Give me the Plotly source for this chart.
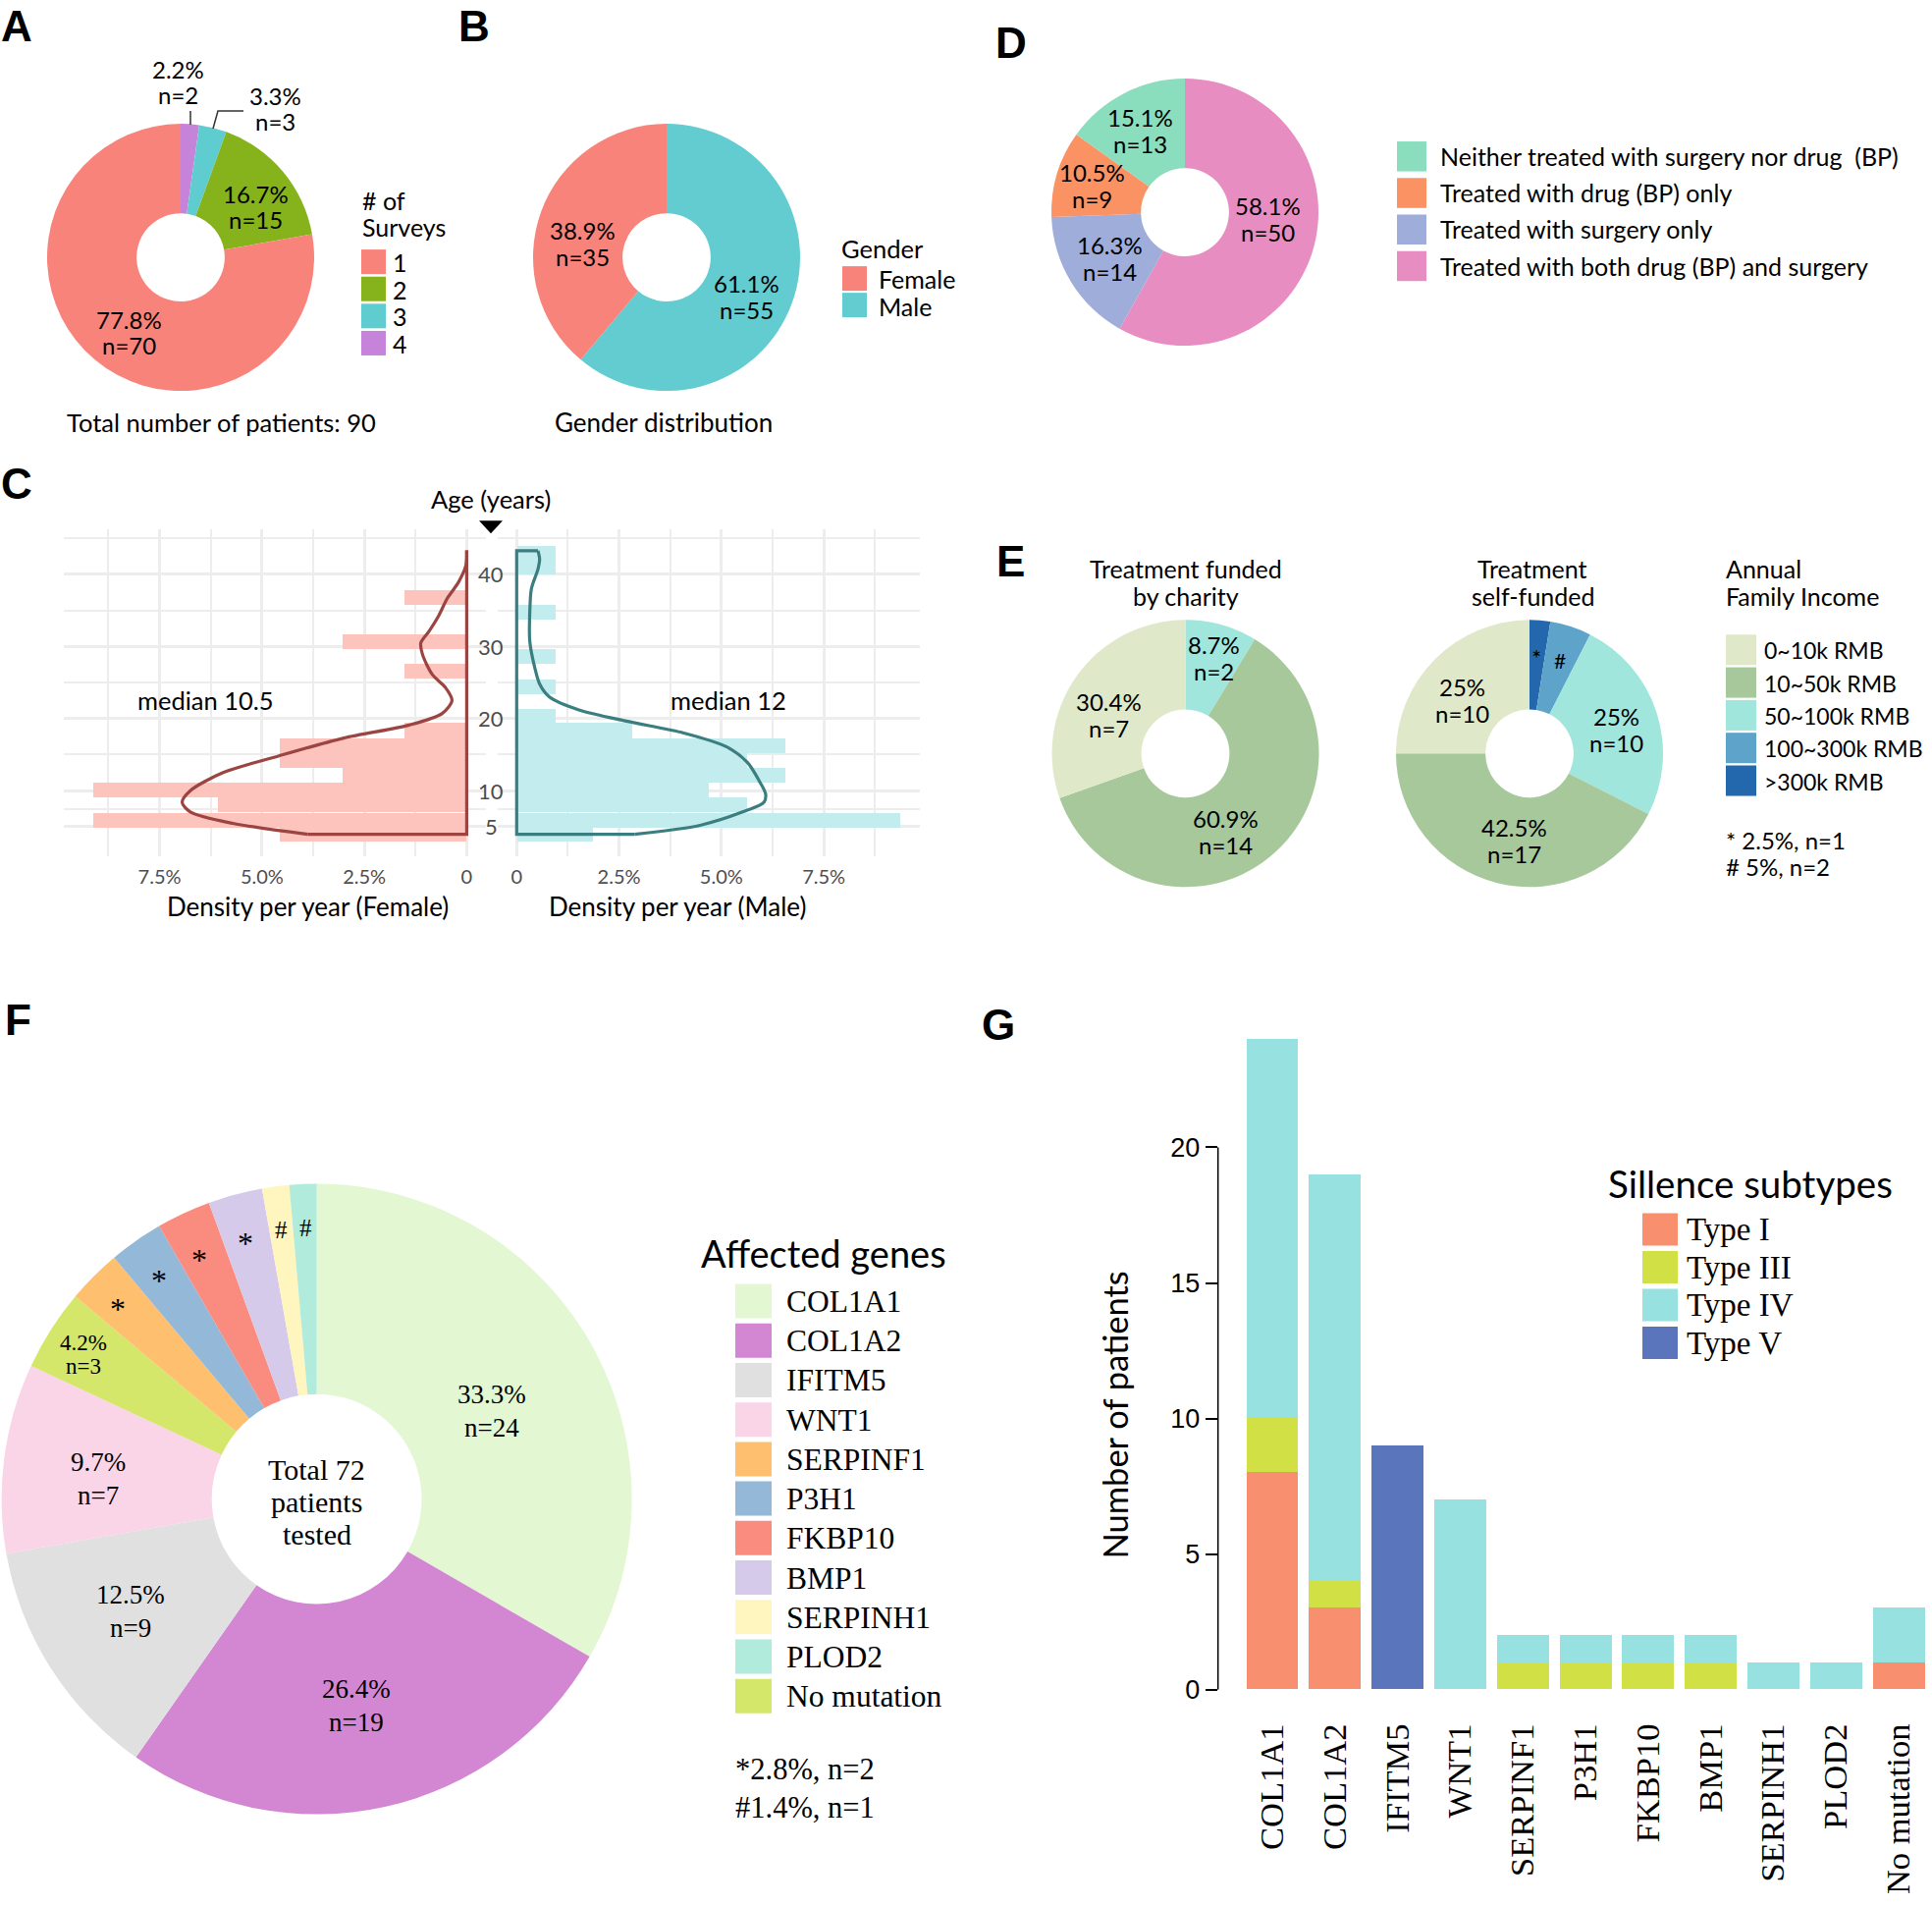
import plotly.graph_objects as go

W, H = 1968, 1940
YK = 1.0082  # compensates the slight vertical squeeze observed in the photographed page
def px(x): return x / W
def py(y): return 1 - (y * YK) / H

SANS = "Lato"
SERIF = "Liberation Serif"
ARIAL = "Liberation Sans"

# ---------------- DATA ----------------
# A: number of surveys
survey_labels = ["1", "2", "3", "4"]
survey_n = [70, 15, 3, 2]
survey_colors = ["#F8837B", "#86B31B", "#5FCCD0", "#C683DA"]

# B: gender
gender_labels = ["Female", "Male"]
gender_n = [35, 55]
gender_colors = ["#F8837B", "#62CCD0"]

# D: treatment
treat_labels = ["Neither treated with surgery nor drug&nbsp;&nbsp;(BP)", "Treated with drug (BP) only",
                "Treated with surgery only", "Treated with both drug (BP) and surgery"]
treat_n = [13, 9, 14, 50]
treat_colors = ["#8ADEBE", "#FA9263", "#9EADD9", "#E78DC2"]

# E: income
income_labels = ["0~10k RMB", "10~50k RMB", "50~100k RMB", "100~300k RMB", ">300k RMB"]
charity_n = [7, 14, 2, 0, 0]
self_n = [10, 17, 10, 2, 1]
income_colors = ["#DFE9C9", "#A6C89B", "#A0E6DC", "#5DA3CA", "#2367AC"]

# C: age histograms (density per year, %)
age_bin_centers = [4.0, 6.0, 8.1, 10.2, 12.2, 14.3, 16.3, 18.4, 20.4, 22.5,
                   24.5, 26.6, 28.7, 30.7, 32.8, 34.8, 36.9, 38.9, 41.0, 43.0]
female_density = [4.56, 9.13, 6.07, 9.13, 3.02, 4.56, 4.56, 1.52, 0, 0,
                  0, 1.52, 0, 3.02, 0, 0, 1.52, 0, 0, 0]
male_density = [1.86, 9.37, 5.62, 4.69, 6.56, 5.62, 6.56, 2.81, 0.94, 0,
                0.94, 0, 0.94, 0, 0, 0.94, 0, 0, 0.94, 0.94]
female_curve_age = [3.96, 5.46, 7.05, 8.4, 10.0, 12.5, 14.8, 17.3, 19.1, 20.7, 22.5,
                    24.3, 26.1, 28.9, 30.5, 32.1, 34.3, 36.6, 38.9, 41.2, 43.3]
female_curve_density = [3.88, 5.71, 6.75, 6.95, 6.75, 5.95, 4.6, 3.0, 1.4, 0.6, 0.36,
                        0.52, 0.84, 1.08, 1.12, 0.92, 0.68, 0.48, 0.2, 0.02, 0.0]
male_curve_age = [3.96, 5.2, 7.05, 8.4, 9.55, 11.4, 13.9, 16.1, 18.0, 19.6, 21.2,
                  23.0, 24.8, 27.1, 30.7, 34.8, 38.0, 40.7, 42.1, 43.25]
male_curve_density = [2.88, 4.48, 5.52, 6.04, 6.08, 5.92, 5.64, 5.12, 4.08, 2.72, 1.52,
                      0.8, 0.56, 0.44, 0.32, 0.32, 0.36, 0.52, 0.56, 0.52]
age_ticks = [5, 10, 20, 30, 40]
density_ticks = [0, 2.5, 5.0, 7.5]
density_ticktext = ["0", "2.5%", "5.0%", "7.5%"]

# F: affected genes
genes = ["COL1A1", "COL1A2", "IFITM5", "WNT1", "SERPINF1", "P3H1", "FKBP10",
         "BMP1", "SERPINH1", "PLOD2", "No mutation"]
gene_n = [24, 19, 9, 7, 2, 2, 2, 2, 1, 1, 3]
gene_colors = ["#E2F7D2", "#D386D2", "#E0E0E0", "#FAD4E7", "#FEBF6F", "#93B8D8",
               "#FA8B7F", "#D5CAEA", "#FFF5BE", "#B1EBDB", "#D5E76B"]
gene_pie_order = ["COL1A1", "COL1A2", "IFITM5", "WNT1", "No mutation", "SERPINF1",
                  "P3H1", "FKBP10", "BMP1", "SERPINH1", "PLOD2"]

# G: Sillence subtypes per gene
subtypes = ["Type I", "Type III", "Type IV", "Type V"]
subtype_colors = ["#F88F6F", "#D1E044", "#98E1E1", "#5B75BD"]
type_I = [8, 3, 0, 0, 0, 0, 0, 0, 0, 0, 1]
type_III = [2, 1, 0, 0, 1, 1, 1, 1, 0, 0, 0]
type_IV = [14, 15, 0, 7, 1, 1, 1, 1, 1, 1, 2]
type_V = [0, 0, 9, 0, 0, 0, 0, 0, 0, 0, 0]
g_yticks = [0, 5, 10, 15, 20]

# ---------------- helpers ----------------
def pct(n, total):
    v = round(100.0 * n / total, 1)
    s = f"{v:.1f}"
    if s.endswith(".0"):
        s = s[:-2]
    return s + "%"

fig = go.Figure()
annotations = []
shapes = []

def text(x, y, s, size, font=SANS, color="black", xanchor="center", yanchor="middle", **kw):
    annotations.append(dict(x=px(x), y=py(y), xref="paper", yref="paper", text=s,
                            showarrow=False, font=dict(family=font, size=size, color=color),
                            xanchor=xanchor, yanchor=yanchor, **kw))

def lines(x, y, parts, size, spacing, **kw):
    n = len(parts)
    for i, p in enumerate(parts):
        text(x, y + (i - (n - 1) / 2) * spacing, p, size, **kw)

def rect(x0, y0, x1, y1, color):
    shapes.append(dict(type="rect", xref="paper", yref="paper", x0=px(x0), x1=px(x1),
                       y0=py(y1), y1=py(y0), fillcolor=color, line=dict(width=0)))

def seg(pts, color="#333333", width=1.5):
    path = "M " + " L ".join(f"{px(a):.5f},{py(b):.5f}" for a, b in pts)
    shapes.append(dict(type="path", xref="paper", yref="paper", path=path,
                       line=dict(color=color, width=width)))

def pie(labels, values, colors, cx, cy, r, hole=0.33):
    # slices listed in legend order; drawn clockwise from 12 o'clock in reverse order
    fig.add_trace(go.Pie(labels=labels[::-1], values=values[::-1], sort=False, direction="clockwise",
                         rotation=0, hole=hole, textinfo="none", showlegend=False,
                         marker=dict(colors=colors[::-1], line=dict(width=0)),
                         domain=dict(x=[px(cx - r), px(cx + r)], y=[py(cy + r), py(cy - r)])))

# panel letters
for L, x, y in [("C", 17, 492), ("D", 1030, 43), ("E", 1029, 571), ("F", 18, 1038), ("G", 1017, 1043)]:
    text(x, y, f"<b>{L}</b>", 44, font=ARIAL)
for L, x in [("A", 17), ("B", 483)]:
    text(x, 0, f"<b>{L}</b>", 44, font=ARIAL, yanchor="top")

LS = 24  # pie label font size

# ---------------- A ----------------
pie(survey_labels, survey_n, survey_colors, 184, 262, 136)
tot = sum(survey_n)
a_pos = [(131, 338), (260, 210), (280, 110), (181, 83)]
for n, (x, y) in zip(survey_n, a_pos):
    lines(x, y, [pct(n, tot), f"n={n}"], LS, 26)
seg([(194, 127), (194, 113)])
seg([(217, 131), (222, 113), (248, 113)])
lines(367, 217.5, ["# of", "Surveys"], 25, 27, xanchor="left")
for i, (lab, c) in enumerate(zip(survey_labels, survey_colors)):
    rect(368, 254 + 27.6 * i, 393, 279 + 27.6 * i, c)
    text(398, 267 + 27.6 * i, lab, 25, xanchor="left")
text(225, 430, f"Total number of patients: {tot}", 25.5)

# ---------------- B ----------------
pie(gender_labels, gender_n, gender_colors, 679, 262, 136)
gt = sum(gender_n)
for n, (x, y) in zip(gender_n, [(593, 248), (760, 302)]):
    lines(x, y, [pct(n, gt), f"n={n}"], LS, 27)
text(855, 253, "Gender", 25.5, xanchor="left")
for i, (lab, c) in enumerate(zip(gender_labels, gender_colors)):
    rect(858, 271 + 27 * i, 883, 296 + 27 * i, c)
    text(893, 284 + 27.5 * i, lab, 25, xanchor="left")
text(676, 430, "Gender distribution", 26)

# ---------------- D ----------------
pie(treat_labels, treat_n, treat_colors, 1207, 216, 136)
dt = sum(treat_n)
for n, (x, y) in zip(treat_n, [(1161, 133), (1112, 189), (1130, 263), (1291, 223)]):
    lines(x, y, [pct(n, dt), f"n={n}"], LS, 27)
for i, (lab, c) in enumerate(zip(treat_labels, treat_colors)):
    rect(1423, 144 + 37.2 * i, 1453, 174.5 + 37.2 * i, c)
    text(1465, 159 + 37.2 * i, lab, 25, xanchor="left")

# ---------------- E ----------------
pie(income_labels, charity_n, income_colors, 1207.5, 767, 136)
pie(income_labels, self_n, income_colors, 1558, 767, 136)
ct = sum(charity_n)
st = sum(self_n)
for n, (x, y) in zip(charity_n[:3], [(1129, 728), (1248, 847), (1236, 670)]):
    lines(x, y, [pct(n, ct), f"n={n}"], LS, 27)
for n, (x, y) in zip(self_n[:3], [(1489, 713), (1542, 856), (1646, 743)]):
    lines(x, y, [pct(n, st), f"n={n}"], LS, 27)
text(1565, 669, "*", 24)
text(1589, 672, "#", 21)
lines(1208, 593, ["Treatment funded", "by charity"], 25, 28)
lines(1561, 593, ["Treatment", "self-funded"], 25, 28)
lines(1756, 593, ["Annual", "Family Income"], 25, 28, xanchor="left")
for i, (lab, c) in enumerate(zip(income_labels, income_colors)):
    rect(1758, 646 + 33.3 * i, 1789, 677 + 33.3 * i, c)
    text(1795, 662 + 33.3 * i, lab, 23, xanchor="left")
text(1756, 855, f"* {pct(self_n[4], st)}, n={self_n[4]}", 24, xanchor="left")
text(1756, 882, f"# {pct(self_n[3], st)}, n={self_n[3]}", 24, xanchor="left")

# ---------------- C ----------------
grid = "#EDEDED"
fem_bar, fem_line = "#FCC4BC", "#9B4441"
mal_bar, mal_line = "#C2ECEE", "#3B7E80"
fig.add_trace(go.Bar(y=age_bin_centers, x=female_density, orientation="h", width=2.055,
                     marker=dict(color=fem_bar, line=dict(width=0)), xaxis="x", yaxis="y",
                     showlegend=False))
fig.add_trace(go.Scatter(x=female_curve_density, y=female_curve_age, mode="lines",
                         line=dict(color=fem_line, width=3.2, shape="spline", smoothing=0.8),
                         xaxis="x", yaxis="y", showlegend=False))
fig.add_trace(go.Scatter(x=[female_curve_density[0], 0, 0],
                         y=[female_curve_age[0], female_curve_age[0], female_curve_age[-1]],
                         mode="lines", line=dict(color=fem_line, width=3.2),
                         xaxis="x", yaxis="y", showlegend=False))
fig.add_trace(go.Bar(y=age_bin_centers, x=male_density, orientation="h", width=2.055,
                     marker=dict(color=mal_bar, line=dict(width=0)), xaxis="x2", yaxis="y2",
                     showlegend=False))
fig.add_trace(go.Scatter(x=male_curve_density, y=male_curve_age, mode="lines",
                         line=dict(color=mal_line, width=3.2, shape="spline", smoothing=0.8),
                         xaxis="x2", yaxis="y2", showlegend=False))
fig.add_trace(go.Scatter(x=[male_curve_density[0], 0, 0, male_curve_density[-1]],
                         y=[male_curve_age[0], male_curve_age[0], male_curve_age[-1], male_curve_age[-1]],
                         mode="lines", line=dict(color=mal_line, width=3.2),
                         xaxis="x2", yaxis="y2", showlegend=False))

def c_xaxis(dom, rng, anchor):
    return dict(domain=[px(dom[0]), px(dom[1])], range=rng, anchor=anchor,
                tickmode="array", tickvals=density_ticks, ticktext=density_ticktext,
                showgrid=True, gridcolor=grid, gridwidth=2.5, zeroline=False, showline=False,
                ticks="", tickfont=dict(family=SANS, size=20, color="#4D4D4D"),
                ticklabelstandoff=7,
                minor=dict(tickmode="array", tickvals=[1.25, 3.75, 6.25, 8.75], showgrid=True,
                           gridcolor=grid, gridwidth=1.5))

def c_yaxis(anchor):
    return dict(domain=[py(871.7), py(538.3)], range=[0.9, 46.3], anchor=anchor,
                tickmode="array", tickvals=age_ticks, showticklabels=False,
                showgrid=True, gridcolor=grid, gridwidth=2.5, zeroline=False, showline=False,
                ticks="",
                minor=dict(tickmode="array", tickvals=[7.5, 15, 25, 35, 45], showgrid=True,
                           gridcolor=grid, gridwidth=1.5))

for a in age_ticks:
    annotations.append(dict(x=px(500), y=a, xref="paper", yref="y", text=str(a),
                            showarrow=False, font=dict(family=SANS, size=22, color="#4D4D4D"),
                            xanchor="center", yanchor="middle"))
text(500, 508, "Age (years)", 25.5)
shapes.append(dict(type="path", xref="paper", yref="paper",
                   path=f"M {px(488)},{py(530)} L {px(512)},{py(530)} L {px(500)},{py(543)} Z",
                   fillcolor="black", line=dict(width=0)))
text(209, 713, "median 10.5", 25.5)
text(742, 713, "median 12", 25.5)
text(313, 923, "Density per year (Female)", 26)
text(690, 923, "Density per year (Male)", 26)

# ---------------- F ----------------
gidx = {g: i for i, g in enumerate(genes)}
fig.add_trace(go.Pie(labels=gene_pie_order, values=[gene_n[gidx[g]] for g in gene_pie_order],
                     sort=False, direction="clockwise", rotation=0, hole=0.333,
                     textinfo="none", showlegend=False,
                     marker=dict(colors=[gene_colors[gidx[g]] for g in gene_pie_order], line=dict(width=0)),
                     domain=dict(x=[px(322.6 - 321), px(322.6 + 321)], y=[py(1526 + 321), py(1526 - 321)])))
ft = sum(gene_n)
f_pos = {"COL1A1": (501, 1436), "COL1A2": (363, 1736), "IFITM5": (133, 1640), "WNT1": (100, 1505)}
for g, (x, y) in f_pos.items():
    n = gene_n[gidx[g]]
    lines(x, y, [pct(n, ft), f"n={n}"], 27, 34, font=SERIF)
nm = gene_n[gidx["No mutation"]]
lines(85, 1379, [pct(nm, ft), f"n={nm}"], 23, 24, font=SERIF)
for x, y in [(120, 1332), (162, 1303), (203, 1282), (250, 1265)]:
    text(x, y, "*", 32, font=SERIF)
for x, y in [(286, 1252), (311, 1250)]:
    text(x, y, "#", 25, font=SERIF)
lines(322.6, 1529, ["Total " + str(ft), "patients", "tested"], 30, 33, font=SERIF)
text(712, 1275, "Affected genes", 38, xanchor="left")
for i, (g, c) in enumerate(zip(genes, gene_colors)):
    rect(749, 1307 + 40.2 * i, 786, 1342 + 40.2 * i, c)
    text(799, 1325 + 40.2 * i, g, 31.5, font=SERIF, xanchor="left")
two = gene_n[gidx["SERPINF1"]]
one = gene_n[gidx["PLOD2"]]
text(747, 1801, f"*{pct(two, ft)}, n={two}", 30.5, font=SERIF, xanchor="left")
text(747, 1840, f"#{pct(one, ft)}, n={one}", 30.5, font=SERIF, xanchor="left")

# ---------------- G ----------------
for name, vals, c in zip(subtypes, [type_I, type_III, type_IV, type_V], subtype_colors):
    fig.add_trace(go.Bar(x=genes, y=vals, name=name, marker=dict(color=c, line=dict(width=0)),
                         width=0.83, xaxis="x3", yaxis="y3", showlegend=False))
shapes.append(dict(type="line", xref="paper", yref="y3", x0=px(1240.7), x1=px(1240.7),
                   y0=g_yticks[0], y1=g_yticks[-1], line=dict(color="black", width=1.5)))
text(1136, 1441, "Number of patients", 34.5, textangle=-90)
text(1636, 1205, "Sillence subtypes", 38.5, xanchor="left")
for i, (s, c) in enumerate(zip(subtypes, subtype_colors)):
    rect(1673, 1235 + 38.5 * i, 1709, 1268 + 38.5 * i, c)
    text(1716, 1251.5 + 38.5 * i, s, 33, font=SERIF, xanchor="left")

fig.update_layout(
    width=W, height=H, margin=dict(l=0, r=0, t=0, b=0), autosize=False,
    paper_bgcolor="white", plot_bgcolor="white", barmode="stack", bargap=0,
    xaxis=c_xaxis((65, 495), [9.84, -0.47], "y"),
    yaxis=c_yaxis("x"),
    xaxis2=c_xaxis((506.7, 936.7), [-0.47, 9.84], "y2"),
    yaxis2=c_yaxis("x2"),
    xaxis3=dict(domain=[px(1240.7), px(1965)], range=[-0.862, 10.49], anchor="y3", type="category",
                showgrid=False, showline=False, zeroline=False, ticks="", tickangle=-90,
                tickfont=dict(family=SERIF, size=34.5, color="black"), ticklabelstandoff=27),
    yaxis3=dict(domain=[py(1720), py(1030)], range=[0, 25.0], anchor="x3",
                tickmode="array", tickvals=g_yticks, showgrid=False, showline=False,
                zeroline=False, ticks="outside", ticklen=12, tickwidth=1.5, tickcolor="black",
                tickfont=dict(family=ARIAL, size=27, color="black")),
    annotations=annotations, shapes=shapes,
)

fig.write_html("out.html", config={"displayModeBar": False},
               post_script="document.body.style.margin='0px';")
